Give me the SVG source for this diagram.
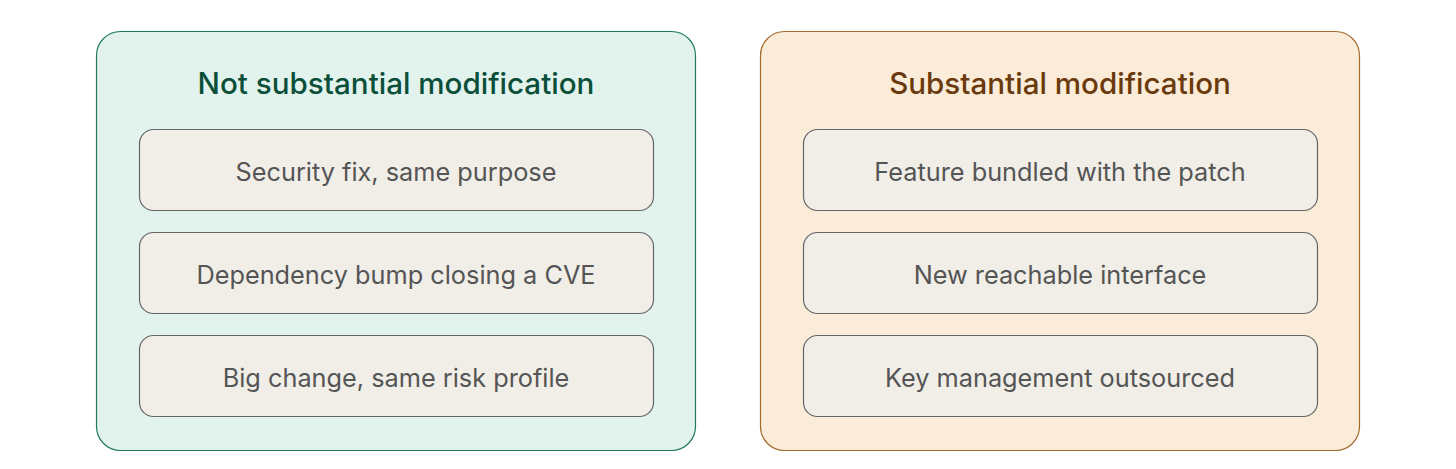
<svg xmlns="http://www.w3.org/2000/svg" width="1456" height="469" viewBox="0 0 1456 469">
<style>
.panel-l{fill:#e1f3ec;stroke:#1f7a5c;stroke-width:1.2}
.panel-r{fill:#faecd9;stroke:#a56a2c;stroke-width:1.2}
.item{fill:#f1eee8;stroke:#666;stroke-width:1.2}
.title{font-family:Inter,"Liberation Sans",sans-serif;font-size:29.6px;font-weight:500;text-anchor:middle}
.t-l{fill:#0b4e3a}
.t-r{fill:#6a3a0c}
.label{font-family:Inter,"Liberation Sans",sans-serif;font-size:25.3px;fill:#555;text-anchor:middle}
</style>
<rect width="1456" height="469" fill="#fff"/>
<g id="not-substantial">
<rect class="panel-l" x="96.5" y="31.5" width="599" height="419" rx="24"/>
<text class="title t-l" x="396" y="94">Not substantial modification</text>
</g>
<g id="ns-1"><rect class="item" x="139.5" y="129.5" width="514" height="81" rx="14"/><text class="label" x="396" y="181">Security fix, same purpose</text></g>
<g id="ns-2"><rect class="item" x="139.5" y="232.5" width="514" height="81" rx="14"/><text class="label" x="396" y="284">Dependency bump closing a CVE</text></g>
<g id="ns-3"><rect class="item" x="139.5" y="335.5" width="514" height="81" rx="14"/><text class="label" x="396" y="387">Big change, same risk profile</text></g>
<g id="substantial">
<rect class="panel-r" x="760.5" y="31.5" width="599" height="419" rx="24"/>
<text class="title t-r" x="1060" y="94">Substantial modification</text>
</g>
<g id="s-1"><rect class="item" x="803.5" y="129.5" width="514" height="81" rx="14"/><text class="label" x="1060" y="181">Feature bundled with the patch</text></g>
<g id="s-2"><rect class="item" x="803.5" y="232.5" width="514" height="81" rx="14"/><text class="label" x="1060" y="284">New reachable interface</text></g>
<g id="s-3"><rect class="item" x="803.5" y="335.5" width="514" height="81" rx="14"/><text class="label" x="1060" y="387">Key management outsourced</text></g>
<g id="connectors"/>
</svg>
